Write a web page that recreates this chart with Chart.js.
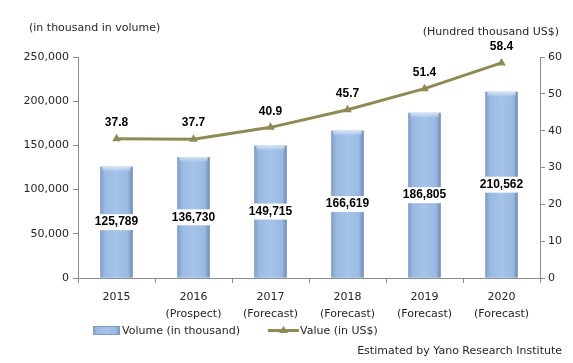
<!DOCTYPE html>
<html>
<head>
<meta charset="utf-8">
<script src="https://cdn.jsdelivr.net/npm/chart.js@4.4.0/dist/chart.umd.min.js"></script>
<style>
  html, body { margin: 0; padding: 0; background: #fff; }
  #wrap { width: 573px; height: 363px; position: relative; }
</style>
</head>
<body>
<div id="wrap"><canvas id="chart" width="573" height="363"></canvas></div>
<script>
// Chart data
const years = [
    ['2015'],
    ['2016', '(Prospect)'],
    ['2017', '(Forecast)'],
    ['2018', '(Forecast)'],
    ['2019', '(Forecast)'],
    ['2020', '(Forecast)']
];
const volume = [125789, 136730, 149715, 166619, 186805, 210562];
const value = [37.8, 37.7, 40.9, 45.7, 51.4, 58.4];
const leftTicks = [0, 50000, 100000, 150000, 200000, 250000];
const rightTicks = [0, 10, 20, 30, 40, 50, 60];

const FONT = 'DejaVu Sans';
const TEXT = '#262626';
const AXIS = '#8c8c8c';
const LINE = '#8f8a55';

// Horizontal gradient used for the bars and the legend swatch
function barGradient(ctx, x0, x1) {
    const g = ctx.createLinearGradient(x0, 0, x1, 0);
    g.addColorStop(0, '#7f9cc4');
    g.addColorStop(0.15, '#9bbae2');
    g.addColorStop(0.5, '#a6c3e8');
    g.addColorStop(0.85, '#9bbae2');
    g.addColorStop(1, '#6f8ab0');
    return g;
}

// Draws bar shading, data labels, axis titles, legend and source note
const decorations = {
    id: 'decorations',
    afterDatasetDraw(chart, args) {
        const ctx = chart.ctx;
        if (args.index === 0) {
            // shade bars
            args.meta.data.forEach(bar => {
                const left = bar.x - bar.width / 2;
                const right = bar.x + bar.width / 2;
                ctx.save();
                ctx.fillStyle = barGradient(ctx, left, right);
                ctx.fillRect(left, bar.y, bar.width, bar.base - bar.y);
                // light top bevel
                const tg = ctx.createLinearGradient(0, bar.y, 0, bar.y + 5);
                tg.addColorStop(0, 'rgba(220,232,248,0.9)');
                tg.addColorStop(1, 'rgba(220,232,248,0)');
                ctx.fillStyle = tg;
                ctx.fillRect(left + 2, bar.y, bar.width - 4, 5);
                ctx.restore();
            });
        }
    },
    afterDatasetsDraw(chart) {
        const ctx = chart.ctx;
        ctx.save();
        ctx.font = 'bold 12px "Liberation Sans"';
        ctx.textAlign = 'center';
        ctx.textBaseline = 'middle';

        // volume labels in middle of bars with white box
        const barMeta = chart.getDatasetMeta(0);
        barMeta.data.forEach((bar, i) => {
            const txt = volume[i].toLocaleString('en-US');
            const y = (bar.y + bar.base) / 2;
            const w = ctx.measureText(txt).width + 6;
            ctx.fillStyle = '#fff';
            ctx.fillRect(bar.x - w / 2, y - 8, w, 16);
            ctx.fillStyle = '#000';
            ctx.fillText(txt, bar.x, y);
        });

        // value labels above points
        const lineMeta = chart.getDatasetMeta(1);
        lineMeta.data.forEach((pt, i) => {
            ctx.fillStyle = '#000';
            ctx.fillText(value[i].toFixed(1), pt.x, pt.y - 16);
        });

        // axis titles
        ctx.font = '11px ' + FONT;
        ctx.fillStyle = TEXT;
        ctx.textAlign = 'left';
        ctx.fillText('(in thousand in volume)', 29, 28);
        ctx.textAlign = 'right';
        ctx.fillText('(Hundred thousand US$)', 559, 32);

        // legend
        ctx.textAlign = 'left';
        ctx.fillStyle = barGradient(ctx, 93, 120);
        ctx.fillRect(93, 326, 27, 9);
        ctx.strokeStyle = '#7f9cc4';
        ctx.lineWidth = 1;
        ctx.strokeRect(93.5, 326.5, 26, 8);
        ctx.fillStyle = TEXT;
        ctx.fillText('Volume (in thousand)', 122, 331);

        ctx.strokeStyle = LINE;
        ctx.lineWidth = 3;
        ctx.beginPath();
        ctx.moveTo(268, 330.5);
        ctx.lineTo(299, 330.5);
        ctx.stroke();
        ctx.fillStyle = LINE;
        ctx.beginPath();
        ctx.moveTo(283.5, 326);
        ctx.lineTo(288, 333);
        ctx.lineTo(279, 333);
        ctx.closePath();
        ctx.fill();
        ctx.fillStyle = TEXT;
        ctx.fillText('Value (in US$)', 300, 331);

        // source note
        ctx.textAlign = 'right';
        ctx.fillText('Estimated by Yano Research Institute', 562, 351);
        ctx.restore();
    }
};

new Chart(document.getElementById('chart'), {
    data: {
        labels: years,
        datasets: [
            {
                type: 'bar',
                label: 'Volume (in thousand)',
                data: volume,
                yAxisID: 'y',
                backgroundColor: '#9bbae2',
                barPercentage: 0.42,
                categoryPercentage: 1,
                order: 2
            },
            {
                type: 'line',
                label: 'Value (in US$)',
                data: value,
                yAxisID: 'y1',
                borderColor: LINE,
                borderWidth: 3,
                backgroundColor: LINE,
                pointStyle: 'triangle',
                pointRadius: 5,
                pointBorderWidth: 0,
                pointBackgroundColor: LINE,
                tension: 0,
                order: 1
            }
        ]
    },
    options: {
        responsive: false,
        animation: false,
        devicePixelRatio: 1,
        layout: { padding: { top: 57, bottom: 37, left: 0, right: 0 } },
        plugins: {
            legend: { display: false },
            tooltip: { enabled: false }
        },
        scales: {
            x: {
                offset: true,
                grid: {
                    offset: true,
                    drawOnChartArea: false,
                    drawTicks: true,
                    tickLength: 5,
                    color: AXIS
                },
                border: { color: AXIS, width: 1 },
                ticks: {
                    color: TEXT,
                    font: { family: FONT, size: 11, lineHeight: 1.5 },
                    padding: 6,
                    maxRotation: 0,
                    autoSkip: false
                },
                afterFit: scale => { scale.height = 48; }
            },
            y: {
                position: 'left',
                min: 0,
                max: 250000,
                afterBuildTicks: scale => { scale.ticks = leftTicks.map(v => ({ value: v })); },
                grid: {
                    drawOnChartArea: false,
                    drawTicks: true,
                    tickLength: 5,
                    color: AXIS
                },
                border: { color: AXIS, width: 1 },
                ticks: {
                    color: TEXT,
                    font: { family: FONT, size: 11 },
                    padding: 4,
                    callback: v => v.toLocaleString('en-US')
                },
                afterFit: scale => { scale.width = 78; }
            },
            y1: {
                position: 'right',
                min: 0,
                max: 60,
                afterBuildTicks: scale => { scale.ticks = rightTicks.map(v => ({ value: v })); },
                grid: {
                    drawOnChartArea: false,
                    drawTicks: true,
                    tickLength: 5,
                    color: AXIS
                },
                border: { color: AXIS, width: 1 },
                ticks: {
                    color: TEXT,
                    font: { family: FONT, size: 11 },
                    padding: 3
                },
                afterFit: scale => { scale.width = 33; }
            }
        }
    },
    plugins: [decorations]
});
</script>
</body>
</html>
